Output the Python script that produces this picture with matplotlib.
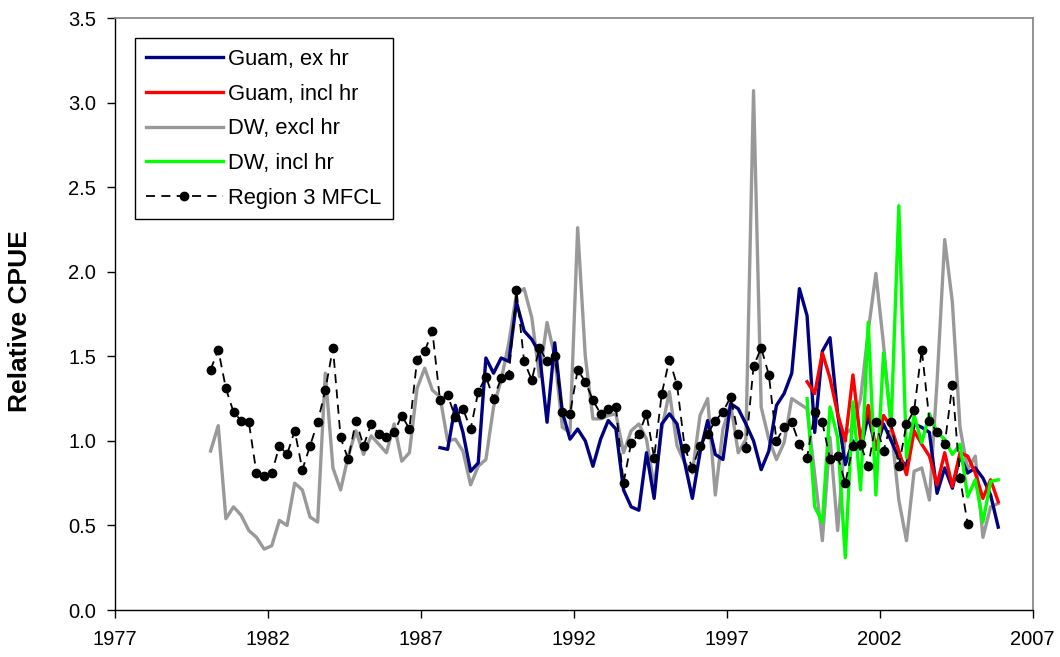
import numpy as np
import matplotlib
matplotlib.use("Agg")
import matplotlib.pyplot as plt

plt.rcParams['font.family'] = ['Liberation Sans', 'DejaVu Sans']

# Quarterly series
mfcl_start = 1980.125
mfcl = [1.42, 1.54, 1.31, 1.17, 1.12, 1.11, 0.81, 0.79, 0.81, 0.97, 0.92, 1.06,
        0.83, 0.97, 1.11, 1.30, 1.55, 1.02, 0.89, 1.12, 0.97, 1.10, 1.04, 1.02,
        1.05, 1.15, 1.07, 1.48, 1.53, 1.65, 1.24, 1.27, 1.14, 1.19, 1.07, 1.29,
        1.38, 1.25, 1.37, 1.39, 1.89, 1.47, 1.36, 1.55, 1.47, 1.50, 1.17, 1.16,
        1.42, 1.35, 1.24, 1.16, 1.19, 1.20, 0.75, 0.99, 1.04, 1.16, 0.90, 1.28,
        1.48, 1.33, 0.96, 0.84, 0.97, 1.04, 1.12, 1.17, 1.26, 1.04, 0.96, 1.44,
        1.55, 1.39, 1.00, 1.08, 1.11, 0.98, 0.90, 1.17, 1.11, 0.89, 0.91, 0.75,
        0.97, 0.98, 0.85, 1.11, 0.94, 1.11, 0.85, 1.10, 1.18, 1.54, 1.12, 1.05,
        0.98, 1.33, 0.78, 0.51]

dw_excl_start = 1980.125
dw_excl = [0.94, 1.09, 0.54, 0.61, 0.56, 0.47, 0.43, 0.36, 0.38, 0.53, 0.50, 0.75,
           0.71, 0.55, 0.52, 1.40, 0.84, 0.71, 0.91, 1.06, 0.92, 1.03, 0.98, 0.93,
           1.10, 0.88, 0.93, 1.31, 1.43, 1.30, 1.26, 1.00, 1.01, 0.94, 0.74, 0.85,
           0.89, 1.20, 1.36, 1.58, 1.87, 1.90, 1.73, 1.38, 1.70, 1.50, 1.08, 1.05,
           2.26, 1.50, 1.13, 1.13, 1.15, 1.16, 0.93, 1.06, 1.10, 1.01, 0.73, 1.07,
           1.29, 0.97, 0.87, 0.81, 1.15, 1.25, 0.68, 1.07, 1.22, 0.93, 1.01, 3.07,
           1.20, 1.01, 0.89, 0.99, 1.25, 1.22, 1.19, 0.80, 0.41, 1.02, 0.47, 1.04,
           1.08, 1.25, 1.65, 1.99, 1.57, 1.08, 0.65, 0.41, 0.82, 0.84, 0.65, 1.35,
           2.19, 1.82, 1.08, 0.83, 0.91, 0.43, 0.61, 0.63]

guam_ex_start = 1987.625
guam_ex = [0.96, 0.95, 1.21, 1.05, 0.82, 0.87, 1.49, 1.40, 1.49, 1.47, 1.82, 1.65,
           1.60, 1.52, 1.11, 1.58, 1.17, 1.01, 1.07, 1.00, 0.85, 1.01, 1.12, 1.07,
           0.71, 0.61, 0.59, 0.93, 0.66, 1.10, 1.16, 1.10, 0.87, 0.66, 0.93, 1.12,
           0.92, 0.89, 1.22, 1.19, 1.10, 1.00, 0.83, 0.94, 1.21, 1.28, 1.40, 1.90,
           1.74, 1.05, 1.53, 1.61, 1.16, 0.86, 1.00, 0.95, 1.15, 0.95, 1.10, 1.00,
           0.90, 0.85, 1.10, 1.08, 1.05, 0.69, 0.84, 0.72, 0.91, 0.81, 0.84, 0.78,
           0.68, 0.49]

guam_incl_start = 1999.625
guam_incl = [1.35, 1.28, 1.52, 1.37, 1.16, 1.00, 1.39, 1.00, 1.21, 0.95, 1.15, 1.08,
             0.94, 0.80, 1.06, 0.98, 0.91, 0.74, 0.93, 0.73, 0.93, 0.91, 0.81, 0.66,
             0.77, 0.64]

dw_incl_start = 1999.625
dw_incl = [1.25, 0.61, 0.52, 1.20, 1.02, 0.31, 1.23, 0.71, 1.70, 0.68, 1.52, 1.10,
           2.39, 0.90, 1.15, 0.99, 1.16, 1.05, 1.01, 0.92, 0.98, 0.67, 0.77, 0.52,
           0.76, 0.77]

x_ticks = [1977, 1982, 1987, 1992, 1997, 2002, 2007]
y_ticks = [0.0, 0.5, 1.0, 1.5, 2.0, 2.5, 3.0, 3.5]


def quarters(start, vals):
    return start + 0.25 * np.arange(len(vals))


fig = plt.figure(figsize=(10.6, 6.57), dpi=100)
ax = fig.add_axes([0.1085, 0.0715, 0.8657, 0.9011])

ax.plot(quarters(guam_ex_start, guam_ex), guam_ex, color='#000080', lw=2.4,
        label='Guam, ex hr', zorder=3)
ax.plot(quarters(guam_incl_start, guam_incl), guam_incl, color='#FF0000', lw=2.4,
        label='Guam, incl hr', zorder=4)
ax.plot(quarters(dw_excl_start, dw_excl), dw_excl, color='#999999', lw=2.4,
        label='DW, excl hr', zorder=2)
ax.plot(quarters(dw_incl_start, dw_incl), dw_incl, color='#00FF00', lw=2.4,
        label='DW, incl hr', zorder=5)
ax.plot(quarters(mfcl_start, mfcl), mfcl, color='black', lw=1.3,
        ls=(0, (5, 3.5)), marker='o', ms=6, mfc='black', mec='black',
        label='Region 3 MFCL', zorder=6)

ax.set_xlim(1977, 2007)
ax.set_ylim(0, 3.5)
ax.set_xticks(x_ticks)
ax.set_xticklabels([str(v) for v in x_ticks])
ax.set_yticks(y_ticks)
ax.set_yticklabels([f"{v:.1f}" for v in y_ticks])

ax.tick_params(axis='both', direction='out', length=5.5, width=1, labelsize=14.5,
               colors='black')
ax.tick_params(axis='x', pad=9)
ax.tick_params(axis='y', pad=8)

for s in ['top', 'right']:
    ax.spines[s].set_color('#808080')
    ax.spines[s].set_linewidth(1.2)
for s in ['left', 'bottom']:
    ax.spines[s].set_color('black')
    ax.spines[s].set_linewidth(1.0)

ax.set_ylabel('Relative CPUE', fontsize=19, fontweight='bold')
ax.yaxis.set_label_coords(-0.090, 0.488)

leg = ax.legend(loc='upper left', bbox_to_anchor=(0.0218, 0.966),
                borderaxespad=0, fontsize=15.8, handlelength=3.5,
                handletextpad=0.25, labelspacing=0.62, fancybox=False,
                framealpha=1, edgecolor='black', borderpad=0.5)
leg.get_frame().set_linewidth(1.0)

fig.savefig('out.png', dpi=100)
